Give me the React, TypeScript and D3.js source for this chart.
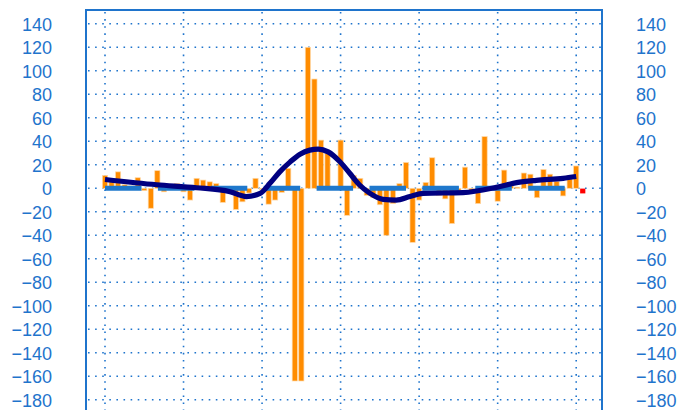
import React from "react";
import * as d3 from "d3";

const W = 678;
const H = 410;

// monthly values (index 0..72)
const barValues: number[] = [
  11, 6, 14, 3, 2, 9, -2, -17, 15, -3, 3, 4,
  -3, -10, 8.5, 7, 5.5, 4, -12, -2, -18, -11.5, -4, 8.5,
  -1, -13.5, -10, -3.5, 17, -164, -164, 120, 93, 41, 30, 1,
  41, -23, 11, 8.5, -6, -8, -14, -40, -13, 4, 22, -46,
  -10, 5, 26, -6, -9, -30, -2, 18, -2, -13, 44, 1,
  -11, 15.5, 2, 1, 13, 12, -8, 16, 12, 6, -6.5, 11,
  19,
];

// smoothed trend (position in months, value)
const trendIdx: number[] = [0, 7.9, 14, 19.1, 21.6, 23.7, 25.2, 26.7, 28.3, 29.8, 31.3, 32.6, 34.1, 35.9, 37.4, 38.9, 40.5, 42.5, 44.5, 46.6, 48.6, 54.7, 59.8, 62.9, 65.9, 70, 72];
const trendVal: number[] = [7.5, 3, 0.5, -2.9, -7, -4.3, 4.2, 14, 22.5, 29, 32.5, 33.4, 31, 22.6, 12.8, 2.8, -4.3, -9.4, -10, -7, -4.3, -3.7, 0.8, 4.8, 6.8, 8.5, 10];

const lastPoint = { idx: 73, value: -2.3 };

const yTicks: number[] = [140, 120, 100, 80, 60, 40, 20, 0, -20, -40, -60, -80, -100, -120, -140, -160, -180];
const xGridIdx: number[] = [0, 12, 24, 36, 48, 60, 72];

const BLUE = "#1f74cc";

export default function App() {
  const plotL = 86;
  const plotR = 602;
  const plotT = 10;
  const plotB = 430;

  const x = d3.scaleLinear().domain([0, 72]).range([105, 576.2]);
  const y = d3.scaleLinear().domain([-180, 140]).range([399.8, 23.8]);

  const line = d3
    .line<number>()
    .x((_, i) => x(trendIdx[i]))
    .y((d) => y(d))
    .curve(d3.curveMonotoneX);

  const bw = 5.2;
  const fmt = (v: number) => (v < 0 ? "\u2212" + Math.abs(v) : String(v));

  return (
    <svg
      width={W}
      height={H}
      style={{ position: "absolute", left: 0, top: 0, background: "#fff" }}
      fontFamily="'Liberation Sans', Arial, sans-serif"
    >
      {/* horizontal grid */}
      {yTicks.map((t) => (
        <line
          key={"h" + t}
          x1={plotL + 2}
          x2={plotR - 1}
          y1={y(t)}
          y2={y(t)}
          stroke={BLUE}
          strokeWidth={1.6}
          strokeDasharray="1.6 5.5"
        />
      ))}
      {/* vertical grid */}
      {xGridIdx.map((g) => (
        <line
          key={"v" + g}
          x1={x(g)}
          x2={x(g)}
          y1={plotT + 2}
          y2={plotB}
          stroke={BLUE}
          strokeWidth={1.6}
          strokeDasharray="1.6 5.5"
        />
      ))}
      {/* bars */}
      {barValues.map((v, i) => (
        <rect
          key={"b" + i}
          x={x(i) - bw / 2}
          y={Math.min(y(v), y(0))}
          width={bw}
          height={Math.abs(y(v) - y(0))}
          fill="#ff8c00"
          stroke="#ffd9a8"
          strokeWidth={0.7}
        />
      ))}
      {/* zero dashed line */}
      <line
        x1={x(0)}
        x2={x(72)}
        y1={y(0)}
        y2={y(0)}
        stroke="#1f78cc"
        strokeWidth={5}
        strokeDasharray="36.5 16.4"
      />
      {/* trend */}
      <path d={line(trendVal) || ""} fill="none" stroke="#000080" strokeWidth={5.2} />
      {/* last point */}
      <rect
        x={x(lastPoint.idx) - 2.6}
        y={y(lastPoint.value) - 2.4}
        width={5.2}
        height={4.8}
        fill="#ff0000"
      />
      {/* frame */}
      <rect
        x={plotL}
        y={plotT}
        width={plotR - plotL}
        height={plotB - plotT}
        fill="none"
        stroke={BLUE}
        strokeWidth={2}
      />
      {/* tick labels */}
      {yTicks.map((t) => (
        <text key={"l" + t} x={52} y={y(t) + 6.8} textAnchor="end" fontSize={18} fill={BLUE}>
          {fmt(t)}
        </text>
      ))}
      {yTicks.map((t) => (
        <text key={"r" + t} x={636} y={y(t) + 6.8} textAnchor="start" fontSize={18} fill={BLUE}>
          {fmt(t)}
        </text>
      ))}
    </svg>
  );
}
